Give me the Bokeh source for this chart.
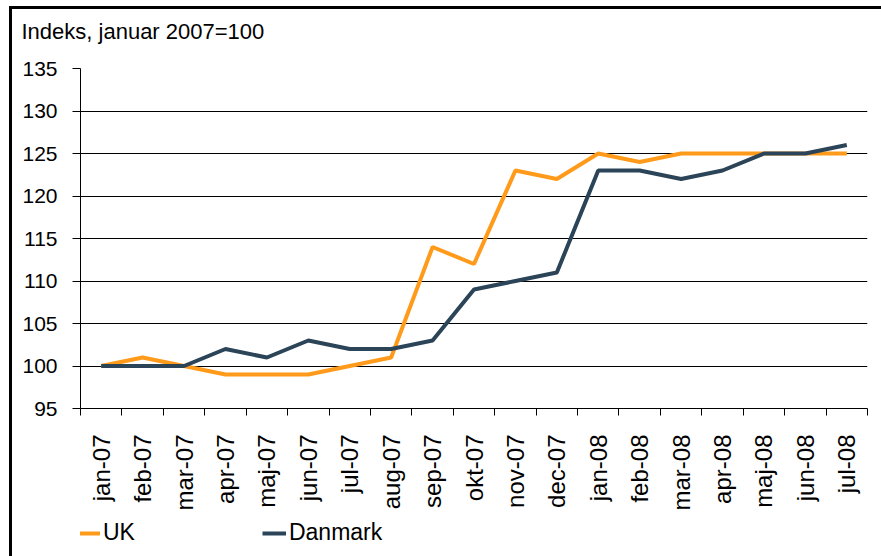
from bokeh.plotting import figure
from bokeh.models import FixedTicker, Legend, LegendItem, Range1d, ColumnDataSource, Spacer
from bokeh.layouts import column, row
from bokeh.embed import file_html
from bokeh.resources import INLINE
import math

months = ["jan-07", "feb-07", "mar-07", "apr-07", "maj-07", "jun-07", "jul-07",
          "aug-07", "sep-07", "okt-07", "nov-07", "dec-07", "jan-08", "feb-08",
          "mar-08", "apr-08", "maj-08", "jun-08", "jul-08"]
uk = [100, 101, 100, 99, 99, 99, 100, 101, 114, 112, 123, 122, 125, 124, 125, 125, 125, 125, 125]
danmark = [100, 100, 100, 102, 101, 103, 102, 102, 103, 109, 110, 111, 123, 123, 122, 123, 125, 125, 126]
y_ticks = [95, 100, 105, 110, 115, 120, 125, 130, 135]
y_label = "Indeks, januar 2007=100"
series_names = ["UK", "Danmark"]

FONT = "Liberation Sans"
UK_COLOR = "#FF9A1A"
DK_COLOR = "#2B4458"
W = 869
ML, MR = 68, 14

xs = [i + 0.5 for i in range(len(months))]
src = ColumnDataSource(dict(x=xs, uk=uk, dk=danmark))

# header strip carrying the unit label
hd = figure(width=W, height=49, output_backend="svg", toolbar_location=None,
            x_axis_location=None, y_axis_location=None,
            min_border_left=ML, min_border_right=MR, min_border_top=34, min_border_bottom=0)
hd.grid.grid_line_color = None
hd.outline_line_color = None
hd.title.text = y_label
hd.title.text_font = FONT
hd.title.text_font_size = "22px"
hd.title.text_font_style = "normal"
hd.title.text_color = "black"
hd.title.align = "left"
hd.title.offset = -59
hd.title.standoff = 0

p = figure(width=W, height=455, output_backend="svg", toolbar_location=None,
           x_range=Range1d(0, len(months)), y_range=Range1d(y_ticks[0], y_ticks[-1]),
           min_border_left=ML, min_border_right=MR, min_border_top=10, min_border_bottom=101)
p.outline_line_color = None
p.background_fill_color = "white"
p.border_fill_color = "white"

p.line("x", "uk", source=src, line_color=UK_COLOR, line_width=4)
p.line("x", "dk", source=src, line_color=DK_COLOR, line_width=4)

# y axis
p.yaxis.ticker = FixedTicker(ticks=y_ticks)
p.yaxis.axis_line_color = "black"
p.yaxis.major_tick_line_color = "black"
p.yaxis.major_tick_in = 0
p.yaxis.major_tick_out = 8
p.yaxis.minor_tick_line_color = None
p.yaxis.major_label_text_font = FONT
p.yaxis.major_label_text_font_size = "21px"
p.yaxis.major_label_text_color = "black"
p.yaxis.major_label_standoff = 15

p.ygrid.ticker = FixedTicker(ticks=y_ticks)
p.ygrid.grid_line_color = "black"
p.ygrid.grid_line_width = 1
p.xgrid.grid_line_color = None

# x axis: labels at month centres, ticks at month boundaries
p.xaxis.ticker = FixedTicker(ticks=xs, minor_ticks=list(range(len(months) + 1)))
p.xaxis.major_label_overrides = {x: m for x, m in zip(xs, months)}
p.xaxis.major_label_orientation = math.pi / 2
p.xaxis.major_label_text_font = FONT
p.xaxis.major_label_text_font_size = "24px"
p.xaxis.major_label_text_color = "black"
p.xaxis.major_tick_line_color = None
p.xaxis.major_tick_out = 0
p.xaxis.major_tick_in = 0
p.xaxis.major_label_standoff = 19
p.xaxis.minor_tick_line_color = "black"
p.xaxis.minor_tick_in = 0
p.xaxis.minor_tick_out = 7
p.xaxis.axis_line_color = "black"

# legend in its own strip below the chart (proxy lines fall outside its range)
lf = figure(width=W, height=43, output_backend="svg", toolbar_location=None,
            x_range=Range1d(0, 1), y_range=Range1d(0, 1),
            x_axis_location=None, y_axis_location=None,
            min_border_left=ML, min_border_right=MR, min_border_top=0, min_border_bottom=0)
lf.grid.grid_line_color = None
lf.outline_line_color = None
l_uk = lf.line("x", "uk", source=src, line_color=UK_COLOR, line_width=4)
l_dk = lf.line("x", "dk", source=src, line_color=DK_COLOR, line_width=4)
legend = Legend(items=[LegendItem(label=series_names[0], renderers=[l_uk]),
                       LegendItem(label=series_names[1], renderers=[l_dk])],
                orientation="horizontal", location=(-4, 10))
legend.label_text_font = FONT
legend.label_text_font_size = "23px"
legend.label_text_color = "black"
legend.glyph_width = 24
legend.label_standoff = 3
legend.spacing = 127
legend.border_line_color = None
legend.background_fill_alpha = 0
legend.padding = 0
legend.margin = 0
lf.add_layout(legend, "center")

framed = column(hd, p, lf, spacing=0,
                styles={"border-left": "3px solid black", "border-top": "3px solid black"})
root = column(Spacer(height=6), row(Spacer(width=9), framed, spacing=0), spacing=0)

open("out.html", "w").write(file_html(root, INLINE))
